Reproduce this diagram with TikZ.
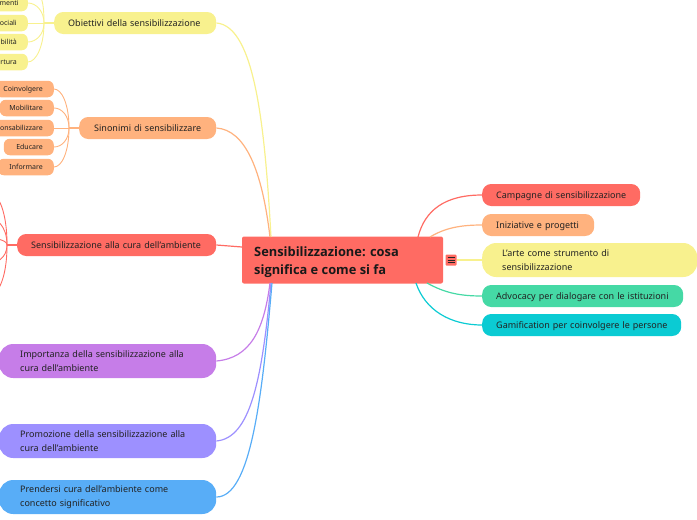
\documentclass[tikz,border=0pt]{standalone}
\usetikzlibrary{calc}
\usepackage{fontspec}
\setmainfont{Noto Sans}
\newfontfamily\headfont{Open Sans}
\definecolor{cred}{HTML}{FF6B63}
\definecolor{corange}{HTML}{FFB27E}
\definecolor{cyellow}{HTML}{F8F18E}
\definecolor{cgreen}{HTML}{45D9A5}
\definecolor{ccyan}{HTML}{0BCBD3}
\definecolor{cpurple}{HTML}{C67DE8}
\definecolor{cviolet}{HTML}{9D90FF}
\definecolor{cblue}{HTML}{58ADF7}
\definecolor{ink}{HTML}{222222}
\newcommand{\oneline}[1]{\leavevmode\smash{\raisebox{-3pt}{#1}}}
\newcommand{\smline}[1]{\leavevmode\hfill\smash{\raisebox{-2.500pt}{\llap{#1}}}}
\tikzset{
 x=1pt,y=-1pt,
 pill/.style n args={3}{anchor=west,inner ysep=0pt,inner xsep=#3,minimum width=#1,minimum height=#2,text width={#1-2*#3},align=left,text=ink,font=\fontsize{9pt}{12pt}\selectfont},
 onepill/.style n args={2}{pill={#1}{22pt}{#2},rounded corners=9pt},
 twopill/.style n args={2}{pill={#1}{34pt}{#2},rounded corners=14pt,execute at begin node={\vspace*{2pt}}},
 smallpill/.style n args={2}{anchor=east,inner ysep=0pt,minimum height=16.500pt,minimum width=#1,text width={#1-2*#2},inner xsep=#2,align=right,text=ink,font=\fontsize{7pt}{9pt}\selectfont,rounded corners=6pt},
 link/.style={line width=1.2pt},
 slink/.style={line width=.9pt}
}
\begin{document}
\begin{tikzpicture}
\useasboundingbox (0,0) rectangle (697,520);
\clip (0,0) rectangle (697,520);
% main node
\node[fill=cred,rounded corners=2pt,minimum width=201pt,minimum height=47pt,inner sep=0pt] (main) at (342.5,260) {};
\node[font=\headfont\bfseries\fontsize{12.85pt}{18pt}\selectfont,text=black!90,anchor=west,align=left,inner sep=0pt] (maintxt) at (254,262) {Sensibilizzazione: cosa\\significa e come si fa};
% right nodes
\node[onepill={158pt}{14pt},fill=cred] (n1) at (482,195) {\oneline{Campagne di sensibilizzazione}};
\node[onepill={112pt}{14pt},fill=corange] (n2) at (482,225) {\oneline{Iniziative e progetti}};
\node[twopill={215pt}{20pt},fill=cyellow] (n3) at (482,260) {L'arte come strumento di\\sensibilizzazione};
\node[onepill={201pt}{14pt},fill=cgreen] (n4) at (482,296) {\oneline{Advocacy per dialogare con le istituzioni}};
\node[onepill={199pt}{14pt},fill=ccyan] (n5) at (482,325) {\oneline{Gamification per coinvolgere le persone}};
% left nodes
\node[onepill={162pt}{14pt},fill=cyellow] (n6) at (54,23) {\oneline{Obiettivi della sensibilizzazione}};
\node[onepill={137pt}{15pt},fill=corange] (n7) at (79,128) {\oneline{Sinonimi di sensibilizzare}};
\node[onepill={199pt}{14pt},fill=cred] (n8) at (17,245) {\oneline{Sensibilizzazione alla cura dell'ambiente}};
\node[twopill={217pt}{21pt},fill=cpurple] (n9) at (-1,361) {Importanza della sensibilizzazione alla\\cura dell'ambiente};
\node[twopill={217pt}{21pt},fill=cviolet] (n10) at (-1,441) {Promozione della sensibilizzazione alla\\cura dell'ambiente};
\node[twopill={217pt}{21pt},fill=cblue] (n11) at (-1,497) {Prendersi cura dell'ambiente come\\concetto significativo};
% small yellow
\node[smallpill={60pt}{9pt},fill=cyellow] (y1) at (28,3) {\smline{menti}};
\node[smallpill={60pt}{11pt},fill=cyellow] (y2) at (28,23) {\smline{ociali}};
\node[smallpill={60pt}{11pt},fill=cyellow] (y3) at (28,42) {\smline{bilità}};
\node[smallpill={60pt}{11pt},fill=cyellow] (y4) at (28,62) {\smline{rtura}};
% small orange
\node[smallpill={59pt}{11pt},fill=corange] (o1) at (54,89) {\smline{Coinvolgere}};
\node[smallpill={54pt}{11pt},fill=corange] (o2) at (54,108) {\smline{Mobilitare}};
\node[smallpill={84pt}{11pt},fill=corange] (o3) at (54,128) {\smline{onsabilizzare}};
\node[smallpill={50pt}{11pt},fill=corange] (o4) at (54,147) {\smline{Educare}};
\node[smallpill={56pt}{11pt},fill=corange] (o5) at (54,167) {\smline{Informare}};
% attachment points
\coordinate (jy) at (271,237);
\coordinate (jo) at (270,237);
\coordinate (jr) at (242,247);
\coordinate (jp) at (270,283);
\coordinate (jv) at (271,283);
\coordinate (jb) at (272,283);
\coordinate (r1) at (418,237);
\coordinate (r2) at (430,237);
\coordinate (r4) at (427,283);
\coordinate (r5) at (416,283);
% collapse icon
\node[fill=cred,rounded corners=1pt,minimum width=11pt,minimum height=11pt,inner sep=0pt] (ico) at (451,260) {};
\foreach \yy in {-2.500,0,2.500}{\draw[line width=.5pt,black!85] ([shift={(-3.5,\yy)}]ico.center) -- ([shift={(3.5,\yy)}]ico.center);}
% main links left
\draw[link,cyellow] (n6.east) .. controls +(39,3) and +(-6,-107) .. (jy);
\draw[link,corange] (n7.east) .. controls +(29,2) and +(-8,-67) .. (jo);
\draw[link,cred] (n8.east) -- (jr);
\draw[link,cpurple] (n9.east) .. controls +(34,-3) and +(-6,47) .. (jp);
\draw[link,cviolet] (n10.east) .. controls +(34,-3) and +(-9,97) .. (jv);
\draw[link,cblue] (n11.east) .. controls +(34,0) and +(-10,117) .. (jb);
% main links right
\draw[link,cred] (r1) .. controls +(7,-27) and +(-37,0) .. (n1.west);
\draw[link,corange] (r2) .. controls +(15,-9) and +(-22,0) .. (n2.west);
\draw[link,cyellow] (ico.east) -- (n3.west);
\draw[link,cgreen] (r4) .. controls +(18,10) and +(-22,0) .. (n4.west);
\draw[link,ccyan] (r5) .. controls +(9,27) and +(-32,0) .. (n5.west);
% yellow children
\coordinate (jn6) at (44,23);
\coordinate (yout) at (37,-15);
\draw[link,cyellow] (n6.west) -- (jn6);
\draw[slink,cyellow] (y2.east) -- (jn6);
\foreach \t in {y1,y3,y4}{
 \draw[slink,cyellow] (jn6) .. controls ($(jn6)!.6!(jn6 |- \t.east)$) and ([xshift=8pt]\t.east) .. (\t.east);
}
\draw[slink,cyellow] (jn6) .. controls +(0,-25) and +(3,12) .. (yout);
% orange children
\coordinate (jn7) at (69,128);
\draw[link,corange] (n7.west) -- (jn7);
\draw[slink,corange] (o3.east) -- (jn7);
\foreach \t in {o1,o2,o4,o5}{
 \draw[slink,corange] (jn7) .. controls ($(jn7)!.6!(jn7 |- \t.east)$) and ([xshift=8pt]\t.east) .. (\t.east);
}
% red children, their far ends outside the picture
\coordinate (jn8) at (7,245);
\draw[link,cred] (n8.west) -- (jn8);
\foreach \yy [count=\i] in {190,217,238,264,298}{
 \coordinate (rc\i) at (-14,\yy);
 \draw[slink,cred] (jn8) .. controls ($(jn8)!.7!(jn8 |- rc\i)$) and ([xshift=10pt]rc\i) .. (rc\i);
}
\end{tikzpicture}
\end{document}
